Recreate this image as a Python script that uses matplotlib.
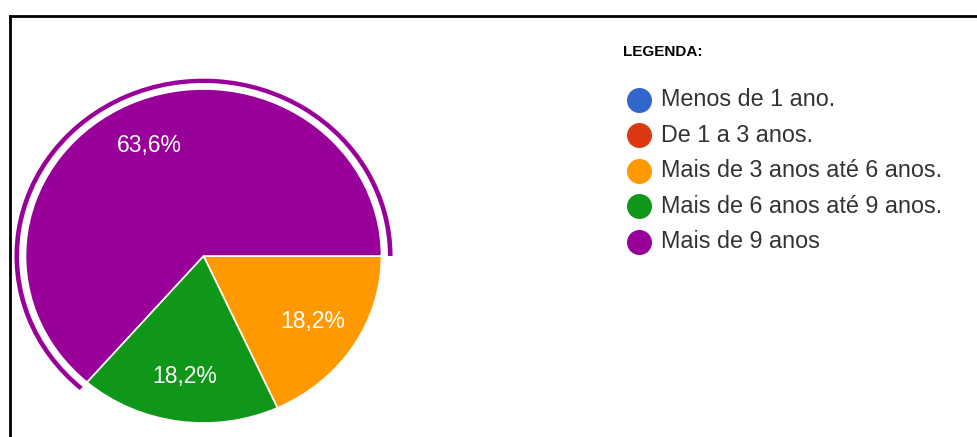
import matplotlib
matplotlib.use("Agg")
import matplotlib.pyplot as plt
from matplotlib.patches import Wedge
from matplotlib.lines import Line2D

categories = ["Menos de 1 ano.", "De 1 a 3 anos.", "Mais de 3 anos até 6 anos.",
              "Mais de 6 anos até 9 anos.", "Mais de 9 anos"]
counts = [0, 0, 2, 2, 7]
colors = ["#3366CC", "#DC3912", "#FF9900", "#109618", "#990099"]

W, H = 978, 437
plt.rcParams['font.family'] = ['Liberation Sans', 'DejaVu Sans']

fig = plt.figure(figsize=(W / 100, H / 100), dpi=100)
ax = fig.add_axes([0, 0, 1, 1])

# pie centre / radii in pixels (the screenshot is slightly stretched)
cx, cy = 203.5, 256
rx, ry = 178, 167

total = sum(counts)
vals = [c for c in counts if c > 0]
cols = [colors[i] for i, c in enumerate(counts) if c > 0]

wedges, texts, autotexts = ax.pie(
    vals, colors=cols, startangle=0, counterclock=False,
    autopct=lambda p: f"{p:.1f}%".replace(".", ","),
    pctdistance=0.73, labeldistance=None,
    wedgeprops=dict(edgecolor="white", linewidth=1.2),
    textprops=dict(color="white", fontsize=16.5))
ax.set_aspect("auto")
ax.set_xlim(-cx / rx, (W - cx) / rx)
ax.set_ylim(-(H - cy) / ry, cy / ry)
ax.axis("off")

# highlight ring around the largest slice
big = vals.index(max(vals))
start = 0.0
for v in vals[:big]:
    start -= 360.0 * v / total
end = start - 360.0 * vals[big] / total
ax.add_patch(Wedge((0, 0), 1.062, end, start, width=0.026,
                   facecolor=cols[big], edgecolor="none"))

# legend
fig.text(623 / W, 1 - 52 / H, "LEGENDA:", fontsize=11, fontweight="bold",
         color="black", va="center", ha="left")
for i, (lab, c) in enumerate(zip(categories, colors)):
    y = 1 - (100 + i * 35.4) / H
    fig.add_artist(Line2D([639 / W], [y], marker="o", markersize=17,
                          color=c, markeredgecolor=c, transform=fig.transFigure))
    fig.text(661 / W, y, lab, fontsize=16.8, color="#333333",
             va="center", ha="left")

# frame lines (top and left)
fig.add_artist(Line2D([10 / W, 1], [1 - 16 / H, 1 - 16 / H], color="black",
                      linewidth=2, transform=fig.transFigure))
fig.add_artist(Line2D([10 / W, 10 / W], [0, 1 - 16 / H], color="black",
                      linewidth=2, transform=fig.transFigure))

fig.savefig("out.png", dpi=100)
